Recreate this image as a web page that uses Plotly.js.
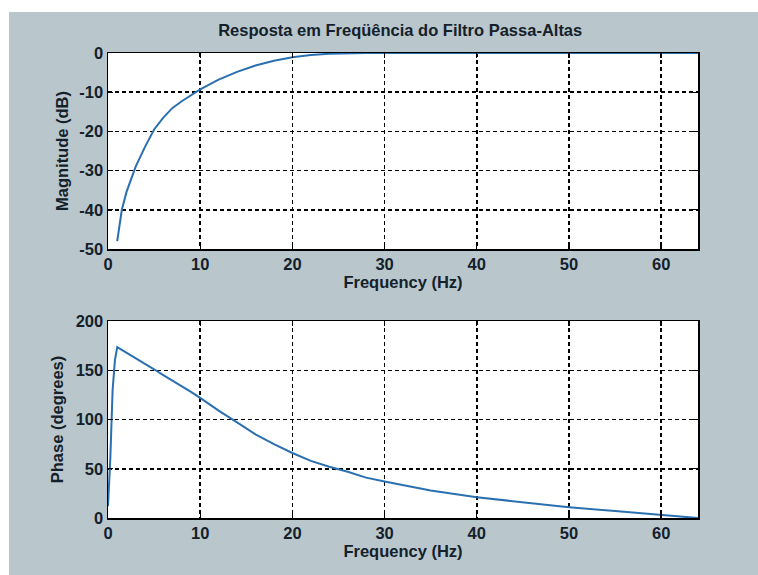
<!DOCTYPE html>
<html>
<head>
<meta charset="utf-8">
<script src="https://cdn.plot.ly/plotly-3.0.1.min.js"></script>
<style>
  html, body { margin: 0; padding: 0; background: #ffffff; }
  #chart { width: 758px; height: 575px; }
</style>
</head>
<body>
<div id="chart"></div>
<script>
// High-pass filter frequency response: magnitude (dB) and phase (degrees)
const freqMag = [1, 1.5, 2, 2.5, 3, 4, 5, 6, 7, 8, 9, 10, 12, 14, 16, 18, 20, 22, 24, 26, 28, 30, 35, 40, 45, 50, 55, 60, 64];
const magDb   = [-48, -40, -35.5, -32, -29, -24, -19.5, -16.5, -14, -12.3, -10.8, -9.3, -6.8, -4.8, -3.2, -2.0, -1.1, -0.5, -0.2, -0.05, 0, 0, 0, 0, 0, 0, 0, 0, 0];

const freqPhase = [0, 0.25, 0.5, 0.75, 1, 2, 3, 4, 5, 6, 7, 8, 9, 10, 12, 14, 16, 18, 20, 22, 24, 26, 28, 30, 35, 40, 45, 50, 55, 60, 63, 64];
const phaseDeg  = [12, 60, 130, 160, 173.5, 168, 162, 156.5, 151, 145, 139.5, 134, 128, 122, 109, 97, 85, 75, 66, 58, 52, 47, 41, 37, 28, 21, 16, 11, 7, 3, 1, 0];

const xTicks = [0, 10, 20, 30, 40, 50, 60];
const xTickLabels = ['0', '10', '20', '30', '40', '50', '60'];
const magTicks = [-50, -40, -30, -20, -10, 0];
const magTickLabels = ['-50', '-40', '-30', '-20', '-10', '0'];
const phaseTicks = [0, 50, 100, 150, 200];
const phaseTickLabels = ['0', '50', '100', '150', '200'];

const W = 758, H = 575;
const ink = '#14212b';
const lineBlue = '#2a70b0';
const font = { family: '"Liberation Sans", Arial, sans-serif', size: 16.5, color: ink, weight: 'bold' };

function px(v) { return v / W; }
function py(v) { return 1 - v / H; }

const axisCommon = {
  showline: true, linecolor: '#000', linewidth: 1.5, mirror: 'allticks',
  ticks: 'inside', ticklen: 5, tickwidth: 1.3, tickcolor: '#000',
  showgrid: true, gridcolor: '#000', gridwidth: 1.5, griddash: '4px,3px',
  zeroline: false, tickfont: font, fixedrange: true, tickmode: 'array'
};

const traces = [
  { x: freqMag, y: magDb, type: 'scatter', mode: 'lines', xaxis: 'x', yaxis: 'y',
    line: { color: lineBlue, width: 2 }, hoverinfo: 'skip', cliponaxis: false },
  { x: freqPhase, y: phaseDeg, type: 'scatter', mode: 'lines', xaxis: 'x2', yaxis: 'y2',
    line: { color: lineBlue, width: 2 }, hoverinfo: 'skip' }
];

const layout = {
  width: W, height: H,
  margin: { l: 0, r: 0, t: 0, b: 0 },
  paper_bgcolor: '#b9c7cd',
  plot_bgcolor: '#ffffff',
  showlegend: false,
  font: font,
  title: {
    text: 'Resposta em Freqüência do Filtro Passa-Altas',
    font: { family: font.family, size: 16.5, color: ink, weight: 'bold' },
    x: 0.528, xanchor: 'center', xref: 'paper',
    y: py(30), yanchor: 'middle', yref: 'paper'
  },
  xaxis: Object.assign({}, axisCommon, {
    domain: [px(108), px(698)], range: [0, 64], tickvals: xTicks, ticktext: xTickLabels, anchor: 'y',
    title: { text: 'Frequency (Hz)', font: font, standoff: 3 }
  }),
  yaxis: Object.assign({}, axisCommon, {
    domain: [py(249), py(53)], range: [-50, 0], tickvals: magTicks, ticktext: magTickLabels, anchor: 'x',
    title: { text: 'Magnitude (dB)', font: font, standoff: 6 }
  }),
  xaxis2: Object.assign({}, axisCommon, {
    domain: [px(108), px(698)], range: [0, 64], tickvals: xTicks, ticktext: xTickLabels, anchor: 'y2',
    title: { text: 'Frequency (Hz)', font: font, standoff: 3 }
  }),
  yaxis2: Object.assign({}, axisCommon, {
    domain: [py(518), py(321)], range: [0, 200], tickvals: phaseTicks, ticktext: phaseTickLabels, anchor: 'x2',
    title: { text: 'Phase (degrees)', font: font, standoff: 8 }
  }),
  shapes: [
    // white margins along the top and left edges
    { type: 'rect', xref: 'paper', yref: 'paper', x0: 0, x1: 1, y0: py(12), y1: 1,
      fillcolor: '#ffffff', line: { width: 0 }, layer: 'below' },
    { type: 'rect', xref: 'paper', yref: 'paper', x0: 0, x1: px(9), y0: 0, y1: 1,
      fillcolor: '#ffffff', line: { width: 0 }, layer: 'below' }
  ]
};

Plotly.newPlot('chart', traces, layout, { staticPlot: true, displayModeBar: false });
</script>
</body>
</html>
